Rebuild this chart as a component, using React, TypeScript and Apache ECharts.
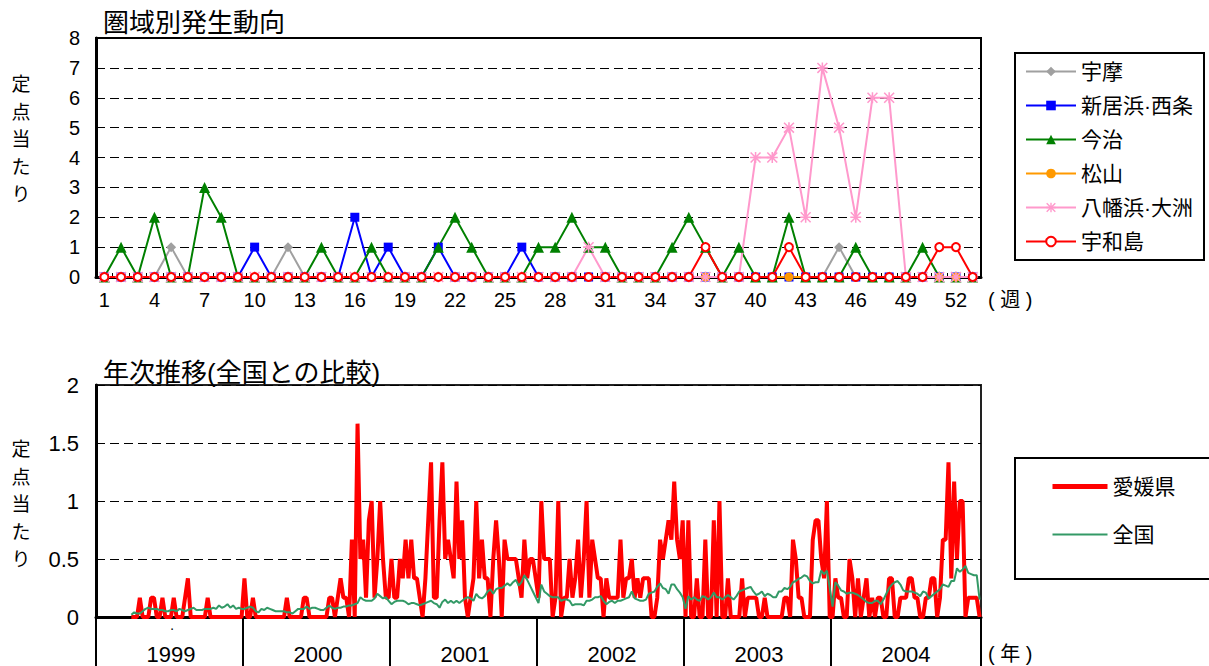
import React, { useEffect, useRef } from "react";
import * as echarts from "echarts";

const FONT = "'Liberation Sans', Arial, 'Noto Sans CJK JP', sans-serif";

// ---------- top chart: 圏域別発生動向 ----------
const WEEK_LABELS = [
  "1","2","3","4","5","6","7","8","9","10","11","12","13","14","15","16","17","18","19","20",
  "21","22","23","24","25","26","27","28","29","30","31","32","33","34","35","36","37","38","39","40",
  "41","42","43","44","45","46","47","48","49","50","51","52","53",
];
const UMA = [0,0,0,0,1,0,0,0,0,0, 0,1,0,0,0,0,0,0,0,0, 0,0,0,0,0,0,0,0,0,0, 0,0,0,0,0,0,0,0,0,0, 0,0,0,0,1,0,0,0,0,0, 0,0,0];
const NIIHAMA_SAIJO = [0,0,0,0,0,0,0,0,0,1, 0,0,0,0,0,2,0,1,0,0, 1,0,0,0,0,1,0,0,0,0, 0,0,0,0,0,0,0,0,0,0, 0,0,0,0,0,0,0,0,0,0, 0,0,0];
const IMABARI = [0,1,0,2,0,0,3,2,0,0, 0,0,0,1,0,0,1,0,0,0, 1,2,1,0,0,0,1,1,2,1, 1,0,0,0,1,2,1,0,1,0, 0,2,0,0,0,1,0,0,0,1, 0,0,0];
const MATSUYAMA = [0,0,0,0,0,0,0,0,0,0, 0,0,0,0,0,0,0,0,0,0, 0,0,0,0,0,0,0,0,0,0, 0,0,0,0,0,0,0,0,0,0, 0,0,0,0,0,0,0,0,0,0, 0,0,0];
const YAWATAHAMA_OZU = [0,0,0,0,0,0,0,0,0,0, 0,0,0,0,0,0,0,0,0,0, 0,0,0,0,0,0,0,0,0,1, 0,0,0,0,0,0,0,0,0,4, 4,5,2,7,5,2,6,6,0,0, 0,0,0];
const UWAJIMA = [0,0,0,0,0,0,0,0,0,0, 0,0,0,0,0,0,0,0,0,0, 0,0,0,0,0,0,0,0,0,0, 0,0,0,0,0,0,1,0,0,0, 0,1,0,0,0,0,0,0,0,0, 1,1,0];

// ---------- bottom chart: 年次推移 ----------
const YEARS = ["1999", "2000", "2001", "2002", "2003", "2004"];
const YEAR_WEEKS = [52, 52, 52, 52, 52, 53];
// 愛媛県: reports per sentinel, in sixths
const EHIME_1999 = [null,null,null,null,null,null,null,null,null,null,null,null,
  0,0,0,1,0,0,0,1,1,0, 0,1,0,0,0,1,0,0,0,1, 2,0,0,0,0,0,0,1,0,0, 0,0,0,0,0,0,0,0,0,0];
const EHIME_2000 = [2,0,0,1,0,0,0,0,0,0, 0,0,0,0,0,1,0,0,0,0, 0,1,1,0,0,0,0,0,0,0,
  1,1,0,1,2,1,1,0,4,0, 10,3,4,1,5,6,1,3,6,3, 1,1];
const EHIME_2001 = [3,1,1,3,2,4,2,4,2,2, 1,0,2,5,8,1,1,5,8,3, 4,3,2,7,3,5,1,0,1,2,
  6,2,4,2,2,0,3,5,3,0, 4,3,3,3,3,2,1,4,2,3, 3,2];
const EHIME_2002 = [1,6,3,3,3,0,1,6,0,1, 1,3,1,2,4,1,3,6,1,4, 3,2,2,0,2,1,1,1,1,4,
  1,2,2,3,1,2,1,2,2,2, 0,0,1,4,3,4,5,4,7,4, 3,5];
const EHIME_2003 = [0,5,0,0,2,0,0,4,0,0, 5,0,6,0,0,2,0,0,0,0, 2,0,1,1,1,1,0,0,1,0,
  0,0,0,0,0,1,1,0,4,3, 1,1,0,0,0,4,5,5,3,2, 6,0];
const EHIME_2004 = [0,2,1,1,0,0,3,2,0,2, 0,1,2,0,1,0,1,1,0,0, 2,2,0,0,1,1,1,2,2,1,
  1,0,0,1,1,2,2,0,1,4, 4,8,2,7,3,6,6,0,1,1, 1,1,0];
// 全国: reports per sentinel, in hundredths
const ZENKOKU_1999 = [null,null,null,null,null,null,null,null,null,null,null,null,
  2,4,3,3,5,7,8,7,7,7, 6,6,5,5,6,6,5,7,6,5, 6,7,8,6,6,6,7,7,7,8, 7,10,8,9,11,8,10,7,8,7];
const ZENKOKU_2000 = [7,8,9,8,5,4,7,6,8,7, 6,5,5,5,5,4,4,3,5,7, 7,7,9,7,8,8,7,6,6,8,
  10,8,7,8,8,9,9,10,10,11, 12,17,15,14,14,14,16,20,18,16, 17,14];
const ZENKOKU_2001 = [11,13,14,14,14,13,11,12,12,11, 10,11,12,13,14,12,11,8,13,15, 12,14,12,14,12,14,16,17,16,14,
  20,17,16,18,22,24,20,24,25,25, 27,29,27,30,32,27,30,36,32,27, 22,17];
const ZENKOKU_2002 = [12,28,22,20,18,17,17,17,14,15, 15,14,10,11,11,11,10,14,14,15, 17,17,18,14,11,13,14,12,14,14,
  15,16,17,22,16,15,14,14,15,20, 21,22,26,29,25,24,20,28,28,24, 21,17];
const ZENKOKU_2003 = [7,18,15,17,15,14,18,17,15,17, 21,17,17,15,17,19,17,15,18,22, 23,24,25,26,22,19,20,22,18,20,
  19,17,17,22,22,25,24,26,30,31, 33,34,36,35,31,29,30,30,40,37, 40,25];
const ZENKOKU_2004 = [9,30,27,23,22,20,21,21,20,19, 17,15,13,12,12,14,14,11,15,20, 25,28,30,31,28,23,22,22,22,21,
  20,18,22,21,16,18,20,22,24,28, 27,26,31,31,42,39,41,44,38,37, 36,36,15];

const Y_TOP_TICKS = [0, 1, 2, 3, 4, 5, 6, 7, 8];
const Y_BOTTOM_TICKS = [0, 0.5, 1, 1.5, 2];

function buildOption() {
  const cats: string[] = [];
  const yearStart: number[] = [];
  const yearLabelIdx: number[] = [];
  YEARS.forEach((y, k) => {
    yearStart.push(cats.length);
    yearLabelIdx.push(cats.length + Math.floor(YEAR_WEEKS[k] / 2));
    for (let w = 1; w <= YEAR_WEEKS[k]; w++) cats.push(`${y}/${w}`);
  });
  const ehime = [...EHIME_1999, ...EHIME_2000, ...EHIME_2001, ...EHIME_2002, ...EHIME_2003, ...EHIME_2004]
    .map((v) => (v == null ? null : v / 6));
  const zenkoku = [...ZENKOKU_1999, ...ZENKOKU_2000, ...ZENKOKU_2001, ...ZENKOKU_2002, ...ZENKOKU_2003, ...ZENKOKU_2004]
    .map((v) => (v == null ? null : v / 100));

  const asterisk = "path://M4.3,0L5.7,0L5.7,10L4.3,10ZM0,4.3L10,4.3L10,5.7L0,5.7ZM1,0L10,9L9,10L0,1ZM9,0L10,1L1,10L0,9Z";
  const topDefs = [
    { name: "宇摩", data: UMA, color: "#A0A0A0", symbol: "diamond", size: 10 },
    { name: "新居浜·西条", data: NIIHAMA_SAIJO, color: "#0000FF", symbol: "rect", size: 9 },
    { name: "今治", data: IMABARI, color: "#008000", symbol: "triangle", size: 11 },
    { name: "松山", data: MATSUYAMA, color: "#FF9900", symbol: "circle", size: 9 },
    { name: "八幡浜·大洲", data: YAWATAHAMA_OZU, color: "#FF99CC", symbol: asterisk, size: 11 },
    { name: "宇和島", data: UWAJIMA, color: "#FF0000", symbol: "emptyCircle", size: 8 },
  ];

  const axisLabelBase = { color: "#000", fontSize: 20, fontFamily: FONT };
  const dashed = { lineStyle: { color: "#000", width: 1, type: [9, 5] } };

  const topSeries = topDefs.map((d) => ({
    name: d.name,
    type: "line",
    xAxisIndex: 0,
    yAxisIndex: 0,
    data: d.data,
    symbol: d.symbol,
    symbolSize: d.size,
    showAllSymbol: true,
    lineStyle: { color: d.color, width: 2 },
    itemStyle: d.symbol === "emptyCircle"
      ? { color: d.color, borderColor: d.color, borderWidth: 2 }
      : { color: d.color },
  }));

  return {
    animation: false,
    backgroundColor: "#fff",
    textStyle: { fontFamily: FONT },
    title: [
      { text: "圏域別発生動向", left: 98, top: 5, textStyle: { fontSize: 26, fontWeight: "normal", color: "#000", fontFamily: FONT } },
      { text: "年次推移(全国との比較)", left: 98, top: 355, textStyle: { fontSize: 26, fontWeight: "normal", color: "#000", fontFamily: FONT } },
    ],
    grid: [
      { left: 96, top: 38, width: 885, height: 239, show: true, borderColor: "#000", borderWidth: 2, backgroundColor: "transparent" },
      { left: 96, top: 385, width: 885, height: 232, show: true, borderColor: "#222", borderWidth: 2, backgroundColor: "transparent" },
    ],
    xAxis: [
      {
        type: "category", gridIndex: 0, data: WEEK_LABELS, boundaryGap: true,
        axisLine: { lineStyle: { color: "#000", width: 3 } },
        axisTick: { show: true, inside: true, length: 4, interval: 0, lineStyle: { color: "#000", width: 1 } },
        axisLabel: { ...axisLabelBase, interval: 2, margin: 13 },
        splitLine: { show: false },
      },
      {
        type: "category", gridIndex: 1, data: cats, boundaryGap: true,
        axisLine: { lineStyle: { color: "#000", width: 3 } },
        axisTick: { show: true, inside: false, length: 50, interval: (i: number) => yearStart.includes(i), lineStyle: { color: "#000", width: 2 } },
        axisLabel: { ...axisLabelBase, fontSize: 22, interval: (i: number) => yearLabelIdx.includes(i), formatter: (v: string) => v.split("/")[0], margin: 26 },
        splitLine: { show: false },
      },
    ],
    yAxis: [
      {
        type: "value", gridIndex: 0, min: Y_TOP_TICKS[0], max: Y_TOP_TICKS[Y_TOP_TICKS.length - 1], interval: 1,
        axisLine: { show: true, lineStyle: { color: "#000", width: 3 } },
        axisTick: { show: true, inside: true, length: 5, lineStyle: { color: "#000" } },
        axisLabel: { ...axisLabelBase, margin: 16 },
        splitLine: { show: true, ...dashed },
      },
      {
        type: "value", gridIndex: 1, min: Y_BOTTOM_TICKS[0], max: Y_BOTTOM_TICKS[Y_BOTTOM_TICKS.length - 1], interval: 0.5,
        axisLine: { show: true, lineStyle: { color: "#000", width: 3 } },
        axisTick: { show: true, inside: true, length: 5, lineStyle: { color: "#000" } },
        axisLabel: { ...axisLabelBase, fontSize: 22, margin: 17, formatter: (v: number) => String(v) },
        splitLine: { show: true, ...dashed },
      },
    ],
    legend: [
      {
        data: topDefs.map((d) => d.name),
        orient: "vertical", left: 1015, top: 53,
        padding: [8, 11, 8, 10],
        itemWidth: 50, itemHeight: 12, itemGap: 13,
        borderColor: "#000", borderWidth: 2, backgroundColor: "#fff",
        textStyle: { color: "#000", fontSize: 21, fontFamily: FONT },
        selectedMode: false,
      },
      {
        data: [
          { name: "愛媛県", lineStyle: { width: 5 }, itemStyle: { opacity: 0 } },
          { name: "全国", lineStyle: { width: 2 }, itemStyle: { opacity: 0 } },
        ],
        orient: "vertical", left: 1015, top: 458,
        padding: [18, 35, 34, 35],
        itemWidth: 55, itemHeight: 12, itemGap: 27,
        borderColor: "#000", borderWidth: 2, backgroundColor: "#fff",
        textStyle: { color: "#000", fontSize: 21, fontFamily: FONT },
        selectedMode: false,
      },
    ],
    series: [
      ...topSeries,
      {
        name: "愛媛県", type: "line", xAxisIndex: 1, yAxisIndex: 1, data: ehime,
        symbol: "none", lineStyle: { color: "#FF0000", width: 4 }, itemStyle: { color: "#FF0000" },
      },
      {
        name: "全国", type: "line", xAxisIndex: 1, yAxisIndex: 1, data: zenkoku,
        symbol: "none", lineStyle: { color: "#339966", width: 2 }, itemStyle: { color: "#339966" },
      },
    ],
    graphic: [
      { type: "text", x: 21, y: 71, style: { text: "定\n点\n当\nた\nり", fontSize: 19, lineHeight: 27.5, fill: "#000", fontFamily: FONT, align: "center", verticalAlign: "top" } },
      { type: "text", x: 21, y: 436, style: { text: "定\n点\n当\nた\nり", fontSize: 19, lineHeight: 27.5, fill: "#000", fontFamily: FONT, align: "center", verticalAlign: "top" } },
      { type: "text", x: 988, y: 300, style: { text: "( 週 )", fontSize: 20, fill: "#000", fontFamily: FONT, align: "left", verticalAlign: "middle" } },
      { type: "text", x: 988, y: 654, style: { text: "( 年 )", fontSize: 20, fill: "#000", fontFamily: FONT, align: "left", verticalAlign: "middle" } },
      { type: "text", x: 172, y: 628, style: { text: "·", fontSize: 14, fill: "#000", fontFamily: FONT, align: "center", verticalAlign: "middle" } },
    ],
  };
}

export default function App() {
  const ref = useRef<HTMLDivElement>(null);
  useEffect(() => {
    if (!ref.current) return;
    const chart = echarts.init(ref.current, null, { renderer: "svg" });
    chart.setOption(buildOption() as any);
    return () => chart.dispose();
  }, []);
  return (
    <div
      ref={ref}
      style={{ position: "absolute", left: 0, top: 0, width: 1209, height: 666, background: "#fff" }}
    />
  );
}
